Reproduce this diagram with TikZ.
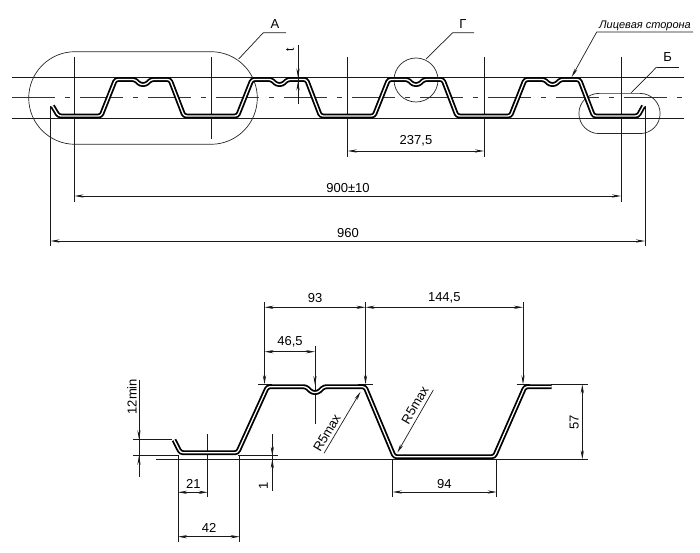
\documentclass[tikz,border=0pt]{standalone}
\usepackage{fontspec}
\setmainfont{Liberation Sans}
\usetikzlibrary{arrows.meta}
\tikzset{
	profile/.style={line width=1.8pt, double=white, double distance=1.3pt, rounded corners=2.5pt},
	thinline/.style={line width=0.7pt, black!90},
	axisline/.style={line width=1pt, black!80, dash pattern=on 43pt off 10pt on 5pt off 10pt},
	dimline/.style={thinline, <->},
	outline/.style={line width=0.7pt, black!85},
	dimtext/.style={font=\fontsize{13}{13}\selectfont, inner sep=0pt, black},
}
% one rib of the upper sheet, starts and ends on the flat part
\def\upperrib{-- ++(14.5,-36.5) -- ++(19.5,0) -- ++(5,5) -- ++(6,0) -- ++(5,-5) -- ++(19,0) -- ++(14,36.5) -- ++(53.5,0)}
\begin{document}
\begin{tikzpicture}[x=1pt,y=-1pt,>={Stealth[length=9pt,width=3.2pt]}]
	\useasboundingbox (0,0) rectangle (700,553);

	% UPPER PROFILE

	\draw[thinline] (12,77.5) -- (684,77.5);
	\draw[thinline] (12,118.5) -- (684,118.5);
	\draw[axisline] (12,98) -- (684,98);

	\draw[thinline] (74.5,57) -- (74.5,202);
	\draw[thinline] (211,57) -- (211,139);
	\draw[thinline] (347.7,57) -- (347.7,157);
	\draw[thinline] (484,57) -- (484,157);
	\draw[thinline] (621,57) -- (621,202);
	\draw[thinline] (50.5,106) -- (50.5,246);
	\draw[thinline] (645,106) -- (645,246);

	\draw[outline] (75,51.7) -- (211,51.7) arc (-90:90:46.3) -- (75,144.3) arc (90:270:46.3);
	\draw[outline] (599,93.4) -- (640,93.4) arc (-90:90:20.1) -- (599,133.6) arc (90:270:20.1);
	\draw[outline] (416,80) circle (22);

	\draw[profile] (52.5,106) -- (58.5,116) -- (101,116) \upperrib \upperrib \upperrib
		-- ++(14.5,-36.5) -- ++(19.5,0) -- ++(5,5) -- ++(6,0) -- ++(5,-5) -- ++(19,0) -- ++(14,36.5) -- (638,116) -- (643.5,106);

	% leaders
	\coordinate (leadA) at (263.3,32.7);
	\coordinate (leadG) at (452.7,32.7);
	\coordinate (leadF) at (596.7,32);
	\coordinate (leadB) at (656.7,67);
	\draw[thinline] (238.7,59) -- (leadA) -- (286,32.7);
	\draw[thinline] (426,59) -- (leadG) -- (474,32.7);
	\draw[thinline] (leadB) -- (679,67);
	\draw[thinline] (631,93) -- (leadB);
	\draw[thinline, ->] (693,32) -- (leadF) -- (571.7,77);

	\node[dimtext] (labA) at (275,24) {А};
	\node[dimtext] (labG) at (463,24) {Г};
	\node[dimtext] (labB) at (667.7,57.5) {Б};
	\node[dimtext, font=\fontsize{11}{11}\selectfont\itshape] (labF) at (645,25.5) {Лицевая сторона};

	% t
	\draw[thinline] (298,45) -- (298,104);
	\draw[thinline, ->] (298,60) -- (298,77.5);
	\draw[thinline, ->] (298,98) -- (298,81.5);
	\node[dimtext, rotate=90, font=\fontsize{12}{12}\selectfont] (labT) at (290,50) {t};

	% dimensions
	\draw[dimline] (347.7,151) -- (484,151);
	\draw[dimline] (74.5,196) -- (621,196);
	\draw[dimline] (50.5,241) -- (645,241);
	\node[dimtext] (d2375) at (416,141) {237,5};
	\node[dimtext] (d900) at (348,188) {900±10};
	\node[dimtext] (d960) at (348,233) {960};

	% LOWER PROFILE

	\draw[thinline] (156,459.3) -- (588,459.3);
	\draw[thinline] (133,455.7) -- (178,455.7);
	\draw[thinline] (238,455.7) -- (277.7,455.7);
	\draw[thinline] (133,439.3) -- (172,439.3);
	\draw[thinline] (258,384.3) -- (272,384.3);
	\draw[thinline] (358,384.3) -- (373,384.3);
	\draw[thinline] (516.7,384.3) -- (530,384.3);
	\draw[thinline] (551,384.3) -- (588,384.3);

	\draw[thinline] (315,346) -- (315,424);
	\draw[thinline] (207.7,434) -- (207.7,497.3);
	\draw[thinline] (178,455) -- (178,541.7);
	\draw[thinline] (239.7,455) -- (239.7,541.7);
	\draw[thinline] (392.7,459) -- (392.7,497.3);
	\draw[thinline] (496.7,459) -- (496.7,497.3);

	\draw[profile] (174,440) -- (180.5,452.7) -- (237.5,452.7) -- (267.5,386.7) -- (306,386.7) -- (312,392.5) -- (318,392.5) -- (324,386.7)
		-- (365,386.7) -- (394.3,456.7) -- (494.3,456.7) -- (525,386.7) -- (551.7,386.7);

	\draw[thinline, ->] (264.5,302) -- (264.5,384.3);
	\draw[thinline, ->] (365.5,302) -- (365.5,384.3);
	\draw[thinline, ->] (523,302) -- (523,384.3);
	\draw[thinline, ->] (315,360) -- (315,385);

	\draw[dimline] (264.5,307.3) -- (365.5,307.3);
	\draw[dimline] (365.5,307.3) -- (523,307.3);
	\draw[dimline] (264.5,351.7) -- (315,351.7);
	\draw[dimline] (178,492.3) -- (207.7,492.3);
	\draw[dimline] (178,536.7) -- (239.7,536.7);
	\draw[dimline] (392.7,492) -- (496.7,492);
	\draw[dimline] (582.3,384.3) -- (582.3,459.3);

	\draw[thinline] (139,380) -- (139,477.3);
	\draw[thinline, ->] (139,420) -- (139,439.3);
	\draw[thinline, ->] (139,475) -- (139,455.7);
	\draw[thinline] (272.3,434) -- (272.3,490.7);
	\draw[thinline, ->] (272.3,438) -- (272.3,455.7);
	\draw[thinline, ->] (272.3,477) -- (272.3,459.3);

	\draw[thinline, ->] (324,453.3) -- (360.5,391.7);
	\draw[thinline, ->] (433.3,390) -- (397.3,452.7);

	\node[dimtext] (d93) at (315,298.5) {93};
	\node[dimtext] (d1445) at (444.3,297.5) {144,5};
	\node[dimtext] (d465) at (290,341.7) {46,5};
	\node[dimtext] (d21) at (193.3,484.3) {21};
	\node[dimtext] (d42) at (209,528.3) {42};
	\node[dimtext] (d94) at (444.3,484) {94};
	\node[dimtext, rotate=90] (d57) at (574.3,422.3) {57};
	\node[dimtext, rotate=90] (d12) at (132,396.7) {12min};
	\node[dimtext, rotate=90] (d1) at (263.3,485.7) {1};
	\node[dimtext, rotate=59.5] (r1) at (327,433) {R5max};
	\node[dimtext, rotate=60] (r2) at (415,405) {R5max};
\end{tikzpicture}
\end{document}
